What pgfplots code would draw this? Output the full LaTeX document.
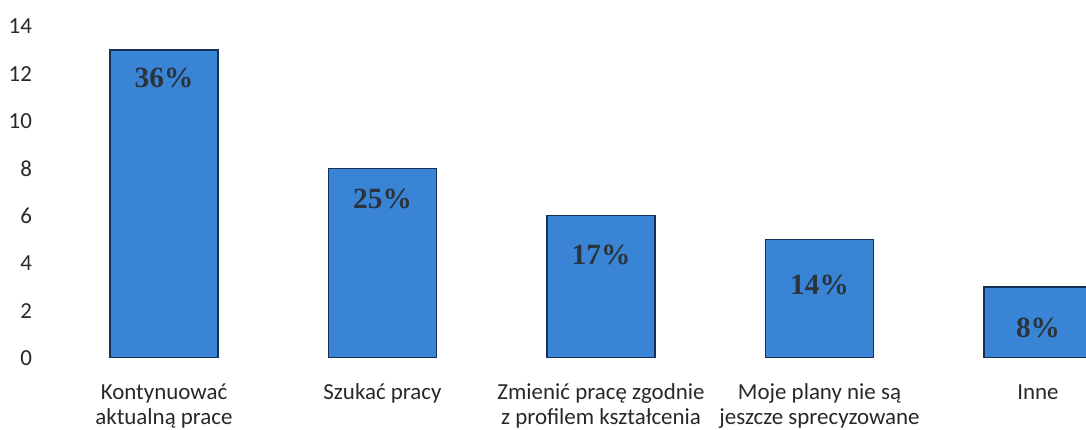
\documentclass[border=0pt]{standalone}
\usepackage{pgfplots}
\pgfplotsset{compat=1.18}
\usepackage{fontspec}
\setmainfont{Carlito}
\newfontfamily\pctfont{Liberation Serif}
\definecolor{barblue}{RGB}{58,132,214}
\definecolor{barlight}{RGB}{72,146,226}
\definecolor{bardark}{RGB}{22,48,88}
\definecolor{pctcol}{RGB}{42,52,60}
\definecolor{labcol}{RGB}{40,40,40}
\begin{document}
\begin{tikzpicture}
\begin{axis}[
  x=163.875pt, y=17.775pt,
  xmin=-0.6, xmax=4.2197, ymin=0, ymax=14.6,
  axis line style={draw=none},
  major tick length=0pt,
  ytick={0,2,...,14},
  xtick={0,1,2,3,4},
  xticklabels={{\strut Kontynuować\\\strut aktualną prace},{\strut Szukać pracy},{\strut Zmienić pracę zgodnie\\\strut z profilem kształcenia},{\strut Moje plany nie są\\\strut jeszcze sprecyzowane},{\strut Inne}},
  xticklabel style={font={\fontsize{17.2pt}{18.75pt}\selectfont}, text=labcol, align=center, anchor=north, inner sep=0pt, yshift=-17.6pt},
  yticklabel style={font={\fontsize{17.2pt}{18.75pt}\selectfont}, text=labcol, anchor=east, inner sep=0pt, xshift=-0.5pt},
  /pgf/number format/assume math mode=true,
  clip=true,
]
\addplot[ybar, bar width=0.494, draw=bardark, line width=1pt,
  left color=barblue, middle color=barlight, right color=barblue] coordinates {(0,13) (1,8) (2,6) (3,5) (4,3)};
\addplot[draw=none, mark=none, nodes near coords, point meta=explicit symbolic,
  nodes near coords style={anchor=center, font={\pctfont\bfseries\fontsize{22pt}{22pt}\selectfont}, text=pctcol}]
  coordinates {(0,11.8) [36\%] (1,6.7) [25\%] (2,4.35) [17\%] (3,3.08) [14\%] (4,1.27) [8\%]};
\coordinate (bl) at (axis cs:-0.7506,-3.038);
\coordinate (tr) at (axis cs:4.2197,15.105);
\end{axis}
\pgfresetboundingbox
\path[use as bounding box] (bl) rectangle (tr);
\end{tikzpicture}
\end{document}
